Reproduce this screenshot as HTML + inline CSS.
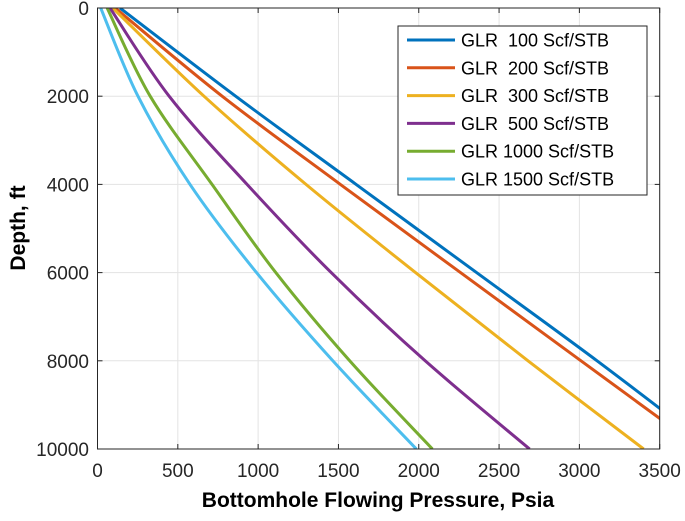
<!DOCTYPE html>
<html><head><meta charset="utf-8"><style>
html,body{margin:0;padding:0;background:#fff;}
svg text{font-family:"Liberation Sans",Arial,sans-serif;}
</style></head><body>
<svg id="chart" width="685" height="516" viewBox="0 0 685 516" xmlns="http://www.w3.org/2000/svg">
<rect width="685" height="516" fill="#fff"/>
<g id="grid"></g><g id="series"></g><g id="axes"></g><g id="legend"></g>
</svg>
<script>
const depths=[0,2000,4000,6000,8000,10000];
const glrLabels=["GLR  100 Scf/STB","GLR  200 Scf/STB","GLR  300 Scf/STB","GLR  500 Scf/STB","GLR 1000 Scf/STB","GLR 1500 Scf/STB"];
const glr100=[140,860,1610,2360,3110,3830];
const glr200=[110,776,1512,2260,3010,3760];
const glr300=[95,663,1298,1980,2680,3400];
const glr500=[78,446,931,1455,2040,2690];
const glr1000=[60,328,713,1110,1570,2085];
const glr1500=[20,252,576,990,1465,1985];
const xTicks=[0,500,1000,1500,2000,2500,3000,3500];
const yTicks=[0,2000,4000,6000,8000,10000];
const colors=["#0072BD","#D95319","#EDB120","#7E2F8E","#77AC30","#4DBEEE"];
const series=[glr100,glr200,glr300,glr500,glr1000,glr1500];
const X0=97.5,X1=659.7,Y0=8,Y1=449;
const sx=v=>X0+(v/3500)*(X1-X0), sy=v=>Y0+(v/10000)*(Y1-Y0);
const NS="http://www.w3.org/2000/svg";
function mk(t,a,p){const e=document.createElementNS(NS,t);for(const k in a)e.setAttribute(k,a[k]);p.appendChild(e);return e;}
const grid=document.getElementById('grid'),axes=document.getElementById('axes'),ser=document.getElementById('series'),leg=document.getElementById('legend');
const cp=mk('clipPath',{id:'clip'},document.getElementById('chart'));mk('rect',{x:X0,y:Y0,width:X1-X0,height:Y1-Y0},cp);
xTicks.forEach(v=>{
 const g=mk('line',{x1:sx(v),x2:sx(v),y1:Y0,y2:Y1,stroke:'#e3e3e3','stroke-width':1},grid);
 
 mk('line',{x1:sx(v),x2:sx(v),y1:Y1,y2:Y1-5,stroke:'#262626'},axes);
 mk('line',{x1:sx(v),x2:sx(v),y1:Y0,y2:Y0+5,stroke:'#262626'},axes);
 const t=mk('text',{x:sx(v),y:477,'text-anchor':'middle','font-size':19,fill:'#262626'},axes);t.textContent=v;
 
});
yTicks.forEach(v=>{
 const g=mk('line',{x1:X0,x2:X1,y1:sy(v),y2:sy(v),stroke:'#e3e3e3','stroke-width':1},grid);
 
 mk('line',{x1:X0,x2:X0+5,y1:sy(v),y2:sy(v),stroke:'#262626'},axes);
 mk('line',{x1:X1,x2:X1-5,y1:sy(v),y2:sy(v),stroke:'#262626'},axes);
 const t=mk('text',{x:89,y:sy(v)+7,'text-anchor':'end','font-size':19,fill:'#262626'},axes);t.textContent=v;
 
});
const box=mk('rect',{x:X0,y:Y0,width:X1-X0,height:Y1-Y0,fill:'none',stroke:'#262626','stroke-width':1},axes);

series.forEach((s,i)=>{
 const pts=s.map((p,j)=>[sx(p),sy(depths[j])]);
 let d='M'+pts[0][0]+','+pts[0][1];
 for(let j=0;j<pts.length-1;j++){const p0=pts[Math.max(j-1,0)],p1=pts[j],p2=pts[j+1],p3=pts[Math.min(j+2,pts.length-1)];
  d+=` C${p1[0]+(p2[0]-p0[0])/6},${p1[1]+(p2[1]-p0[1])/6} ${p2[0]-(p3[0]-p1[0])/6},${p2[1]-(p3[1]-p1[1])/6} ${p2[0]},${p2[1]}`;}
 const e=mk('path',{d:d,fill:'none',stroke:colors[i],'stroke-width':3,'clip-path':'url(#clip)'},ser);
 
});
const lb=mk('rect',{x:398,y:26,width:249,height:169,fill:'#fff',stroke:'#262626','stroke-width':1},leg);

glrLabels.forEach((l,i)=>{
 const y=40+i*27.8;
 const ln=mk('line',{x1:407,x2:455,y1:y,y2:y,stroke:colors[i],'stroke-width':3},leg);
 
 const t=mk('text',{x:461,y:y+6.5,'font-size':18,fill:'#000'},leg);t.textContent=l;
 t.style.whiteSpace='pre';
 
});
const xt=mk('text',{x:378,y:507,'text-anchor':'middle','font-size':21,'font-weight':'bold',fill:'#000'},axes);xt.textContent='Bottomhole Flowing Pressure, Psia';

const yt=mk('text',{x:0,y:0,'text-anchor':'middle','font-size':21,'font-weight':'bold',fill:'#000',transform:'translate(25,228) rotate(-90)'},axes);yt.textContent='Depth, ft';

</script>
</body></html>
